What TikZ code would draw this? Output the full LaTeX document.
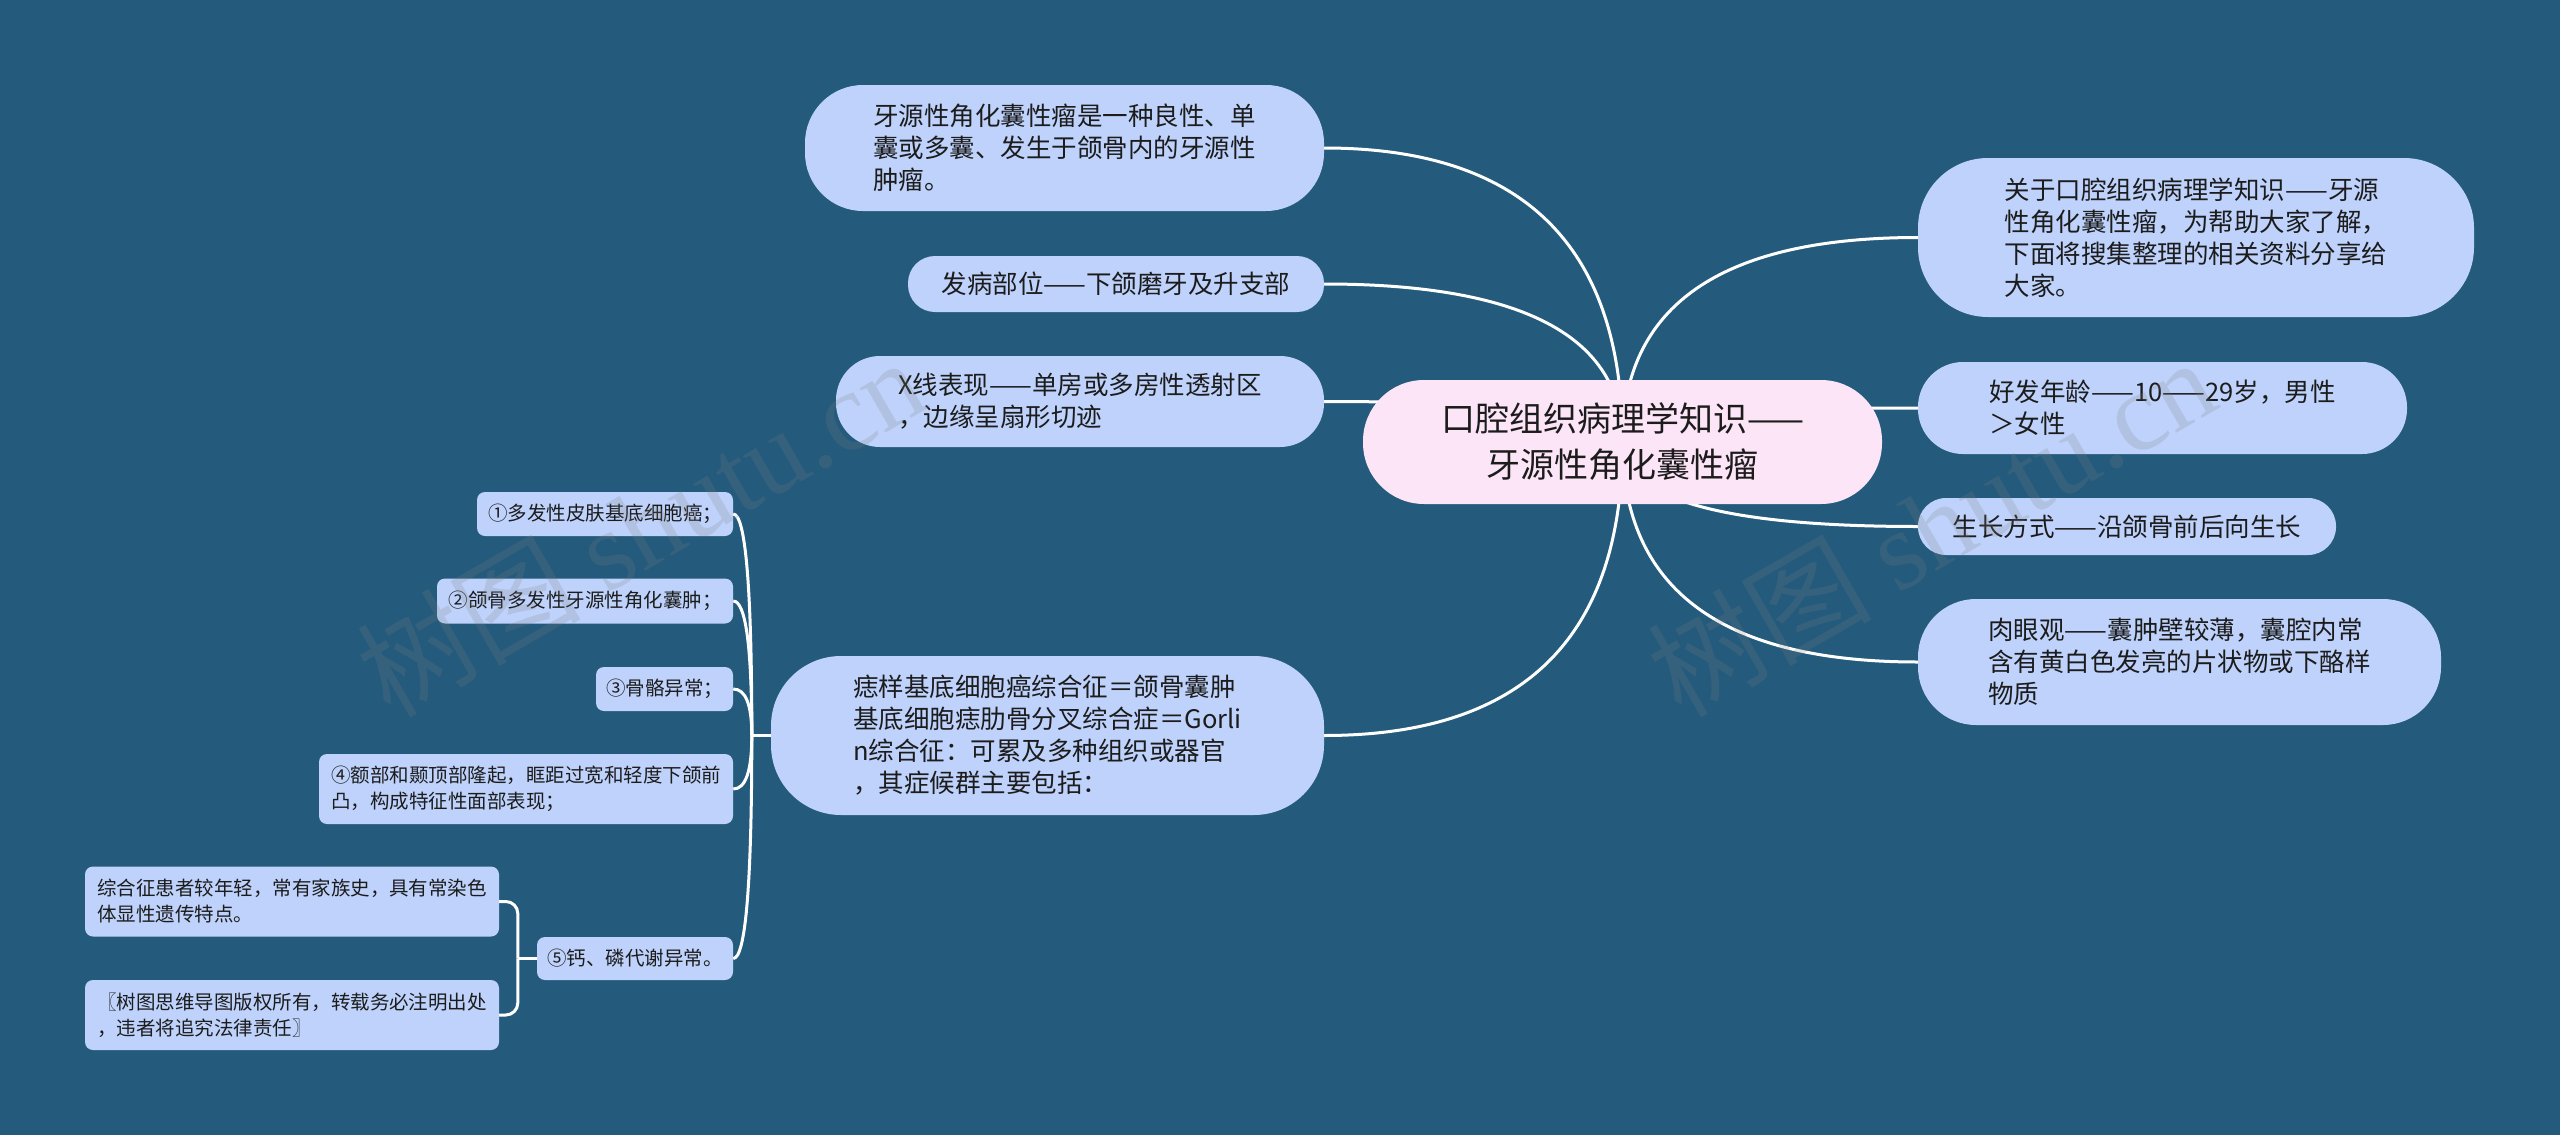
\documentclass[tikz,border=0pt]{standalone}
\usepackage{fontspec}
\setmainfont{Noto Sans CJK SC}
\newfontfamily\wmserif{Liberation Serif}
\usetikzlibrary{calc}
\definecolor{bgc}{HTML}{245A7C}
\definecolor{nodefill}{HTML}{BED2FB}
\definecolor{rootfill}{HTML}{FDE5F8}
\definecolor{textc}{HTML}{1C1C1C}
\pgfdeclarelayer{bglayer}
\pgfdeclarelayer{edges}
\pgfsetlayers{bglayer,edges,main}
% quadratic mind-map curve from #1 to #2, control at (#1 |- #2)
\newcommand\mmcurve[2]{%
  \path (#1 |- #2) coordinate (qctl);
  \draw[conn] (#1) .. controls ($(#1)!2/3!(qctl)$) and ($(#2)!2/3!(qctl)$) .. (#2);}
\begin{document}
\begin{tikzpicture}[x=1pt,y=-1pt,
  conn/.style={draw=white, line width=3pt},
  rootnode/.style={fill=rootfill, text=textc, inner sep=0pt, align=center,
    font=\fontsize{34}{46}\selectfont},
  branch/.style={fill=nodefill, text=textc, inner sep=0pt, align=left,
    font=\fontsize{25.5}{32}\selectfont},
  leaf/.style={fill=nodefill, text=textc, inner sep=0pt, align=left,
    rounded corners=8, font=\fontsize{19.5}{26}\selectfont},
  wm/.style={text=gray, opacity=0.2, inner sep=0pt, font=\fontsize{112}{116}\selectfont}
]
\begin{pgfonlayer}{bglayer}
  \fill[bgc] (0,0) rectangle (2560,1135);
\end{pgfonlayer}
\useasboundingbox (0,0) rectangle (2560,1135);

% root
\node[rootnode, minimum width=519, minimum height=124, rounded corners=61] (c) at (1622.5,442)
  {口腔组织病理学知识——\\牙源性角化囊性瘤};

% left branches
\node[branch, minimum width=519, minimum height=126, rounded corners=58] (n1) at (1064.5,148)
  {牙源性角化囊性瘤是一种良性、单\\囊或多囊、发生于颌骨内的牙源性\\肿瘤。};
\node[branch, minimum width=416, minimum height=56, rounded corners=27] (n2) at (1116,284)
  {发病部位——下颌磨牙及升支部};
\node[branch, minimum width=488, minimum height=91, rounded corners=44] (n3) at (1080,401.5)
  {X线表现——单房或多房性透射区\\，边缘呈扇形切迹};
\node[branch, minimum width=553, minimum height=159, rounded corners=70] (n4) at (1047.5,735.5)
  {痣样基底细胞癌综合征＝颌骨囊肿\\基底细胞痣肋骨分叉综合症＝Gorli\\n综合征：可累及多种组织或器官\\，其症候群主要包括：};

% right branches
\node[branch, minimum width=556, minimum height=159, rounded corners=70] (r1) at (2196,237.5)
  {关于口腔组织病理学知识——牙源\\性角化囊性瘤，为帮助大家了解，\\下面将搜集整理的相关资料分享给\\大家。};
\node[branch, minimum width=489, minimum height=92, rounded corners=45] (r2) at (2162.5,408)
  {好发年龄——10——29岁，男性\\＞女性};
\node[branch, minimum width=418, minimum height=57, rounded corners=28] (r3) at (2127,526.5)
  {生长方式——沿颌骨前后向生长};
\node[branch, minimum width=523, minimum height=126, rounded corners=58] (r4) at (2179.5,662)
  {肉眼观——囊肿壁较薄，囊腔内常\\含有黄白色发亮的片状物或下酪样\\物质};

% leaves
\node[leaf, minimum width=256, minimum height=44] (l1) at (605,514) {①多发性皮肤基底细胞癌；};
\node[leaf, minimum width=296, minimum height=45] (l2) at (585,601) {②颌骨多发性牙源性角化囊肿；};
\node[leaf, minimum width=137, minimum height=44] (l3) at (664.5,689) {③骨骼异常；};
\node[leaf, minimum width=414, minimum height=70] (l4) at (526,789)
  {④额部和颞顶部隆起，眶距过宽和轻度下颌前\\凸，构成特征性面部表现；};
\node[leaf, minimum width=196, minimum height=43] (l5) at (635,958.5) {⑤钙、磷代谢异常。};
\node[leaf, minimum width=414, minimum height=70] (l6) at (292,901.5)
  {综合征患者较年轻，常有家族史，具有常染色\\体显性遗传特点。};
\node[leaf, minimum width=414, minimum height=70] (l7) at (292,1015)
  {〖树图思维导图版权所有，转载务必注明出处\\，违者将追究法律责任〗};

% connectors
\begin{pgfonlayer}{edges}
  \mmcurve{c.center}{n1.east}
  \mmcurve{c.center}{n2.east}
  \mmcurve{c.center}{n3.east}
  \mmcurve{c.center}{n4.east}
  \mmcurve{c.center}{r1.west}
  \mmcurve{c.center}{r2.west}
  \mmcurve{c.center}{r3.west}
  \mmcurve{c.center}{r4.west}
  \coordinate (jL) at ($(n4.west)+(-19,0)$);
  \draw[conn] (n4.west) -- (jL);
  \mmcurve{jL}{l1.east}
  \mmcurve{jL}{l2.east}
  \mmcurve{jL}{l3.east}
  \mmcurve{jL}{l4.east}
  \mmcurve{jL}{l5.east}
  \coordinate (jM) at ($(l5.west)+(-19,0)$);
  \draw[conn] (l5.west) -- (jM);
  \draw[conn, rounded corners=12] (jM) |- (l6.east);
  \draw[conn, rounded corners=12] (jM) |- (l7.east);
\end{pgfonlayer}

% watermarks
\node[wm, rotate=30] (wm1) at (640,526) {树图 {\wmserif shutu.cn}};
\node[wm, rotate=30] (wm2) at (1931,526) {树图 {\wmserif shutu.cn}};
\end{tikzpicture}
\end{document}
